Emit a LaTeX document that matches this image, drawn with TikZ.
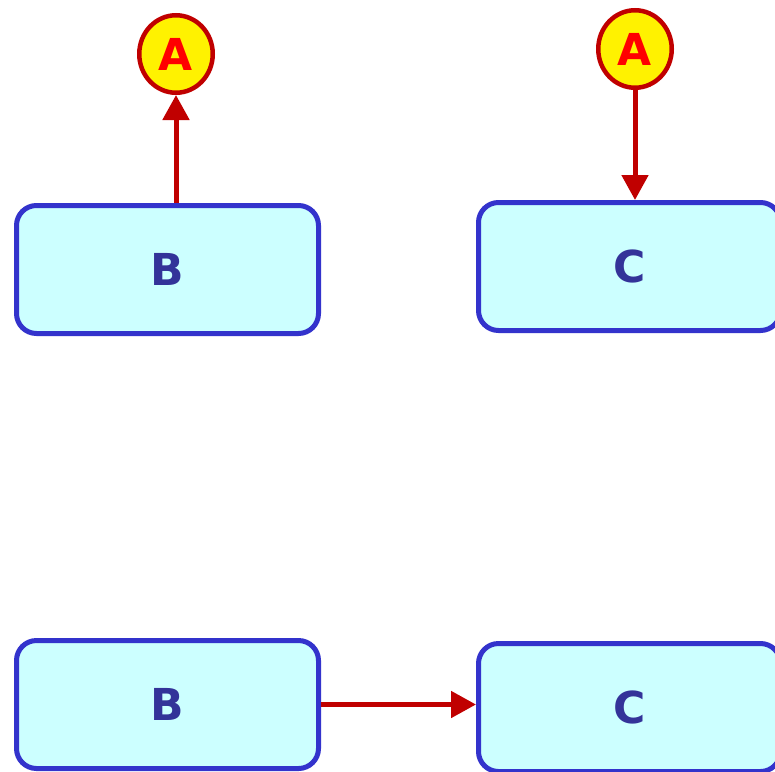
\documentclass[tikz,border=0pt]{standalone}
\usepackage{fontspec}
\setmainfont{DejaVu Sans}
\usetikzlibrary{shapes.geometric,arrows.meta}
\definecolor{boxfill}{HTML}{CCFFFF}
\definecolor{boxline}{HTML}{3333CC}
\definecolor{boxtext}{HTML}{333399}
\definecolor{arrred}{HTML}{C00000}
\definecolor{circline}{HTML}{C00000}
\definecolor{circtext}{HTML}{FF0000}
\begin{document}
\begin{tikzpicture}[x=1pt,y=-1pt,
  boxnode/.style={rectangle, rounded corners=20pt, draw=boxline, fill=boxfill,
    line width=5pt, minimum width=302pt, minimum height=128pt, inner sep=0pt,
    text=boxtext, font=\fontsize{44}{50}\selectfont\bfseries},
  circnode/.style={ellipse, draw=circline, fill=yellow, line width=4.5pt,
    minimum width=73.5pt, minimum height=77.5pt, inner sep=0pt,
    text=circtext, font=\fontsize{44}{50}\selectfont\bfseries},
  conn/.style={draw=arrred, line width=5pt, -{Triangle[width=26pt,length=25pt]}, arrred}
]
\useasboundingbox (0,0) rectangle (775,771);
\node[circnode] (A1) at (176,54) {A};
\node[circnode] (A2) at (635,49) {A};
\node[boxnode] (B1) at (167.5,269.5) {\raisebox{-2pt}{B}};
\node[boxnode] (C1) at (629.5,266.5) {\raisebox{-2pt}{C}};
\node[boxnode] (B2) at (167.5,704.5) {\raisebox{-2pt}{B}};
\node[boxnode] (C2) at (629.5,707.5) {\raisebox{-2pt}{C}};
\draw[conn] (A1 |- B1.north) -- (A1.south);
\draw[conn] (A2.south) -- (A2 |- C1.north);
\draw[conn] (B2.east) -- (B2.east -| C2.west);
\end{tikzpicture}
\end{document}
